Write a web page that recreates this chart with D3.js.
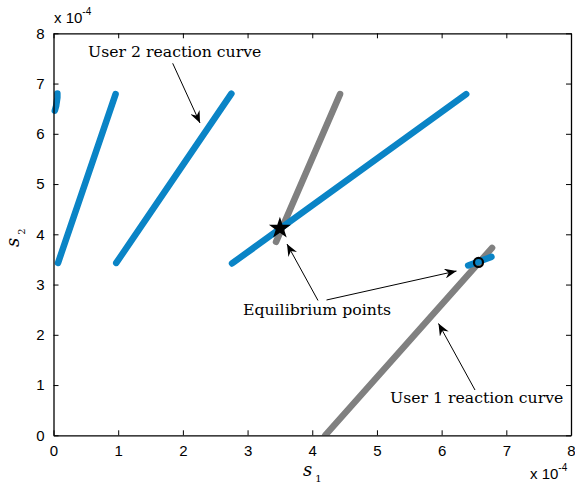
<!DOCTYPE html>
<html lang="en">
<head>
<meta charset="UTF-8">
<title>Reaction curves</title>
<script src="https://d3js.org/d3.v7.min.js"></script>
<style>
    body { margin: 0; background: #fff; }
    svg { display: block; }
    .tick text { font-family: "Liberation Sans", Arial, sans-serif; font-size: 15px; fill: #000; }
    .tick line, .domain { stroke: #000; }
</style>
</head>
<body>
<svg id="chart" width="575" height="488"></svg>
<script>
    // user 2 reaction curve (blue) segments, units of 1e-4
    const user2Segments = [
        [[0.06, 6.80], [0.06, 6.72], [0.04, 6.55], [0.02, 6.46]],
        [[0.07, 3.43], [0.96, 6.79]],
        [[0.97, 3.43], [2.75, 6.80]],
        [[2.76, 3.42], [6.38, 6.79]],
        [[6.41, 3.38], [6.77, 3.55]]
    ];
    // user 1 reaction curve (grey) segments
    const user1Segments = [
        [[3.44, 3.85], [4.43, 6.79]],
        [[4.20, 0.00], [6.78, 3.73]]
    ];
    const equilibria = [
        {x: 3.50, y: 4.12, shape: "star"},
        {x: 6.57, y: 3.44, shape: "circle"}
    ];
    const xTicks = [0, 1, 2, 3, 4, 5, 6, 7, 8];
    const yTicks = [0, 1, 2, 3, 4, 5, 6, 7, 8];
    const annotations = [
        {text: "User 2 reaction curve", x: 88, y: 57, arrows: [[[172.7, 63.3], [200, 123]]]},
        {text: "Equilibrium points", x: 243, y: 315, arrows: [[[318, 300.5], [287, 244]], [[326.5, 300], [456.5, 271]]]},
        {text: "User 1 reaction curve", x: 390, y: 403, arrows: [[[475, 390], [438.5, 323.5]]]}
    ];

    const svg = d3.select("#chart");
    const margin = {left: 53.5, top: 33.3, right: 4, bottom: 52.7};
    const width = 575 - margin.left - margin.right;
    const height = 488 - margin.top - margin.bottom;

    const x = d3.scaleLinear().domain([0, 8]).range([0, width]);
    const y = d3.scaleLinear().domain([0, 8]).range([height, 0]);

    const g = svg.append("g").attr("transform", `translate(${margin.left},${margin.top})`);

    g.append("defs").append("clipPath").attr("id", "clip")
        .append("rect").attr("x", -3).attr("width", width + 3).attr("height", height);

    const line = d3.line().x(d => x(d[0])).y(d => y(d[1]));
    const plot = g.append("g").attr("clip-path", "url(#clip)");

    plot.selectAll("path.u1")
        .data(user1Segments)
        .enter().append("path")
        .attr("class", "u1")
        .attr("d", line)
        .attr("fill", "none")
        .attr("stroke", "#808080")
        .attr("stroke-width", 6.5)
        .attr("stroke-linecap", "round")
        .attr("stroke-linejoin", "round");

    plot.selectAll("path.u2")
        .data(user2Segments)
        .enter().append("path")
        .attr("class", "u2")
        .attr("d", line)
        .attr("fill", "none")
        .attr("stroke", "#0a84c6")
        .attr("stroke-width", 6.5)
        .attr("stroke-linecap", "round")
        .attr("stroke-linejoin", "round");

    const star = d3.symbol().type(d3.symbolStar).size(150);
    equilibria.forEach(p => {
        if (p.shape === "star") {
            g.append("path")
                .attr("d", star())
                .attr("transform", `translate(${x(p.x)},${y(p.y)})`)
                .attr("fill", "#000");
        } else {
            g.append("circle")
                .attr("cx", x(p.x)).attr("cy", y(p.y)).attr("r", 4.5)
                .attr("fill", "none").attr("stroke", "#000").attr("stroke-width", 2.2);
        }
    });

    // axes, ticks inward on all four sides
    g.append("g").attr("transform", `translate(0,${height})`)
        .call(d3.axisBottom(x).tickValues(xTicks).tickSizeInner(-5).tickSizeOuter(0).tickPadding(10));
    g.append("g")
        .call(d3.axisLeft(y).tickValues(yTicks).tickSizeInner(-5).tickSizeOuter(0).tickPadding(9));
    g.append("g")
        .call(d3.axisTop(x).tickValues(xTicks).tickSizeInner(-5).tickSizeOuter(0).tickFormat(""));
    g.append("g").attr("transform", `translate(${width},0)`)
        .call(d3.axisRight(y).tickValues(yTicks).tickSizeInner(-5).tickSizeOuter(0).tickFormat(""));
    g.selectAll(".domain").attr("stroke-width", 1.3);

    // exponent labels
    const expo = (sel, px, py) => {
        const t = sel.append("text").attr("x", px).attr("y", py)
            .attr("font-family", "Liberation Sans, Arial, sans-serif").attr("font-size", 15);
        t.append("tspan").text("x 10");
        t.append("tspan").attr("dy", -8).attr("font-size", 10).text("-4");
    };
    expo(svg, 54, 23);
    expo(svg, 530, 479);

    // axis labels
    const xl = svg.append("text").attr("x", 303).attr("y", 476)
        .attr("font-family", "DejaVu Serif, serif").attr("font-size", 18);
    xl.append("tspan").attr("font-style", "italic").text("s");
    xl.append("tspan").attr("dx", 3).attr("dy", 6).attr("font-size", 10).text("1");

    const yl = svg.append("text").attr("transform", "translate(19,247) rotate(-90)")
        .attr("font-family", "DejaVu Serif, serif").attr("font-size", 18);
    yl.append("tspan").attr("font-style", "italic").text("s");
    yl.append("tspan").attr("dx", 3).attr("dy", 6).attr("font-size", 10).text("2");

    // annotations
    svg.append("defs").append("marker")
        .attr("id", "head").attr("viewBox", "0 -5 12 10")
        .attr("refX", 12).attr("refY", 0)
        .attr("markerWidth", 12).attr("markerHeight", 10)
        .attr("markerUnits", "userSpaceOnUse")
        .attr("orient", "auto")
        .append("path").attr("d", "M0,-5L12,0L0,5L4,0Z").attr("fill", "#000");

    annotations.forEach(a => {
        svg.append("text")
            .attr("x", a.x).attr("y", a.y)
            .attr("font-family", "DejaVu Serif, serif").attr("font-size", 15.7)
            .text(a.text);
        a.arrows.forEach(ar => {
            svg.append("line")
                .attr("x1", ar[0][0]).attr("y1", ar[0][1])
                .attr("x2", ar[1][0]).attr("y2", ar[1][1])
                .attr("stroke", "#000").attr("stroke-width", 1)
                .attr("marker-end", "url(#head)");
        });
    });
</script>
</body>
</html>
